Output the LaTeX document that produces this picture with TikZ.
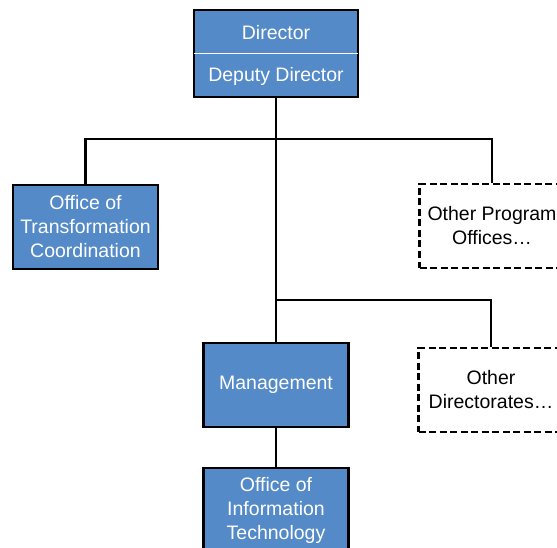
\documentclass[tikz,border=0pt]{standalone}
\usepackage{fontspec}
\setmainfont{Liberation Sans}
\usepackage{tikz}
\usetikzlibrary{positioning, calc}
\definecolor{boxblue}{RGB}{84,138,199}

\tikzset{
  orgbox/.style={draw=black, line width=2.6pt, fill=boxblue, text=white,
    minimum width=145pt, minimum height=84pt, align=center, inner sep=0pt,
    font=\fontsize{19.5}{24}\selectfont},
  otherbox/.style={draw=black, line width=2.2pt, dash pattern=on 7pt off 3.5pt,
    fill=white, text=black, minimum width=145pt, minimum height=84pt,
    align=center, inner sep=0pt, font=\fontsize{19.5}{24}\selectfont},
  boxtext/.style={text=white, font=\fontsize{19.5}{24}\selectfont},
  link/.style={draw=black, line width=2.8pt}
}

\begin{document}
\begin{tikzpicture}[x=1pt, y=-1pt]
  \useasboundingbox (0,0) rectangle (557,548);

  % Director / Deputy Director
  \node[orgbox, minimum width=164pt, minimum height=87pt] (dir) at (276,53.5) {};
  \draw[white, line width=1pt] ($(dir.west)+(1.3pt,0)$) -- ($(dir.east)-(1.3pt,0)$);
  \node[boxtext] (dirtop) at (276,33) {Director};
  \node[boxtext] (dirlow) at (276,76) {Deputy Director};

  % first level
  \node[orgbox] (otc) at (85.5,227) {Office of\\Transformation\\Coordination};
  \node[otherbox] (opo) at (492,226) {Other Program\\Offices\dots};

  % second level
  \node[orgbox] (mgmt) at (276,385) {Management};
  \node[otherbox] (odir) at (491,390) {Other\\Directorates\dots};
  \node[orgbox] (oit) at (276,510) {Office of\\Information\\Technology};

  % connectors
  \coordinate (j1) at (276,139);
  \coordinate (j2) at (276,300);
  \draw[link] (dir.south) -- (mgmt.north);
  \draw[link] (otc.north) |- (j1) -| (opo.north);
  \draw[link] (j2) -| (odir.north);
  \draw[link] (mgmt.south) -- (oit.north);
\end{tikzpicture}
\end{document}
